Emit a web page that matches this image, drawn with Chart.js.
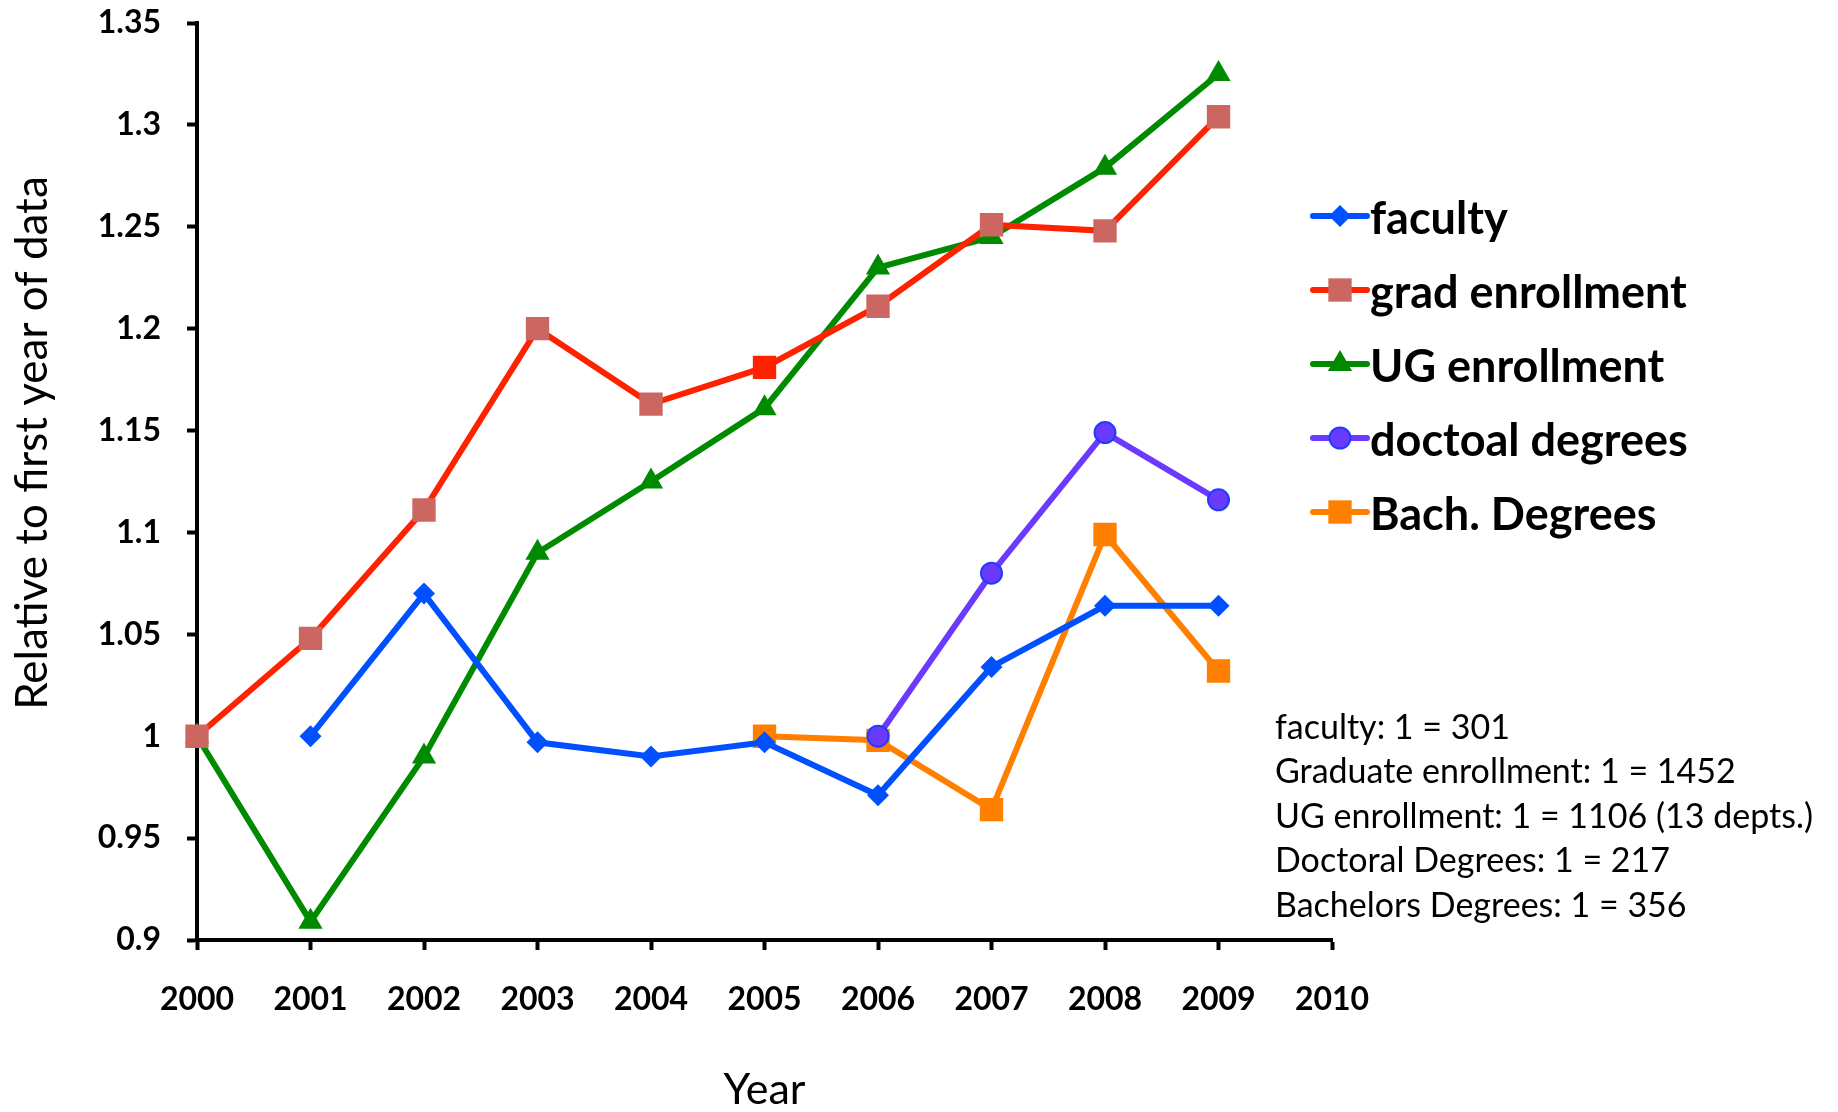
<!DOCTYPE html>
<html>
<head>
<meta charset="utf-8">
<script src="https://cdn.jsdelivr.net/npm/chart.js@4.4.1/dist/chart.umd.min.js"></script>
<style>
  body { margin: 0; background: #fff; }
  #caja { width: 1838px; height: 1112px; }
</style>
</head>
<body>
<div id="caja"><canvas id="graficoRelativo" width="1838" height="1112"></canvas></div>
<script>
// Datos (relativos al primer año)
const anios = ["2000", "2001", "2002", "2003", "2004", "2005", "2006", "2007", "2008", "2009", "2010"];

const faculty = [null, 1.0, 1.07, 0.997, 0.99, 0.997, 0.971, 1.034, 1.064, 1.064];
const gradEnrollment = [1.0, 1.048, 1.111, 1.2, 1.163, 1.181, 1.211, 1.251, 1.248, 1.304];
const ugEnrollment = [1.0, 0.909, 0.99, 1.09, 1.125, 1.161, 1.23, 1.245, 1.279, 1.325];
const doctoral = [null, null, null, null, null, null, 1.0, 1.08, 1.149, 1.116];
const bachelors = [null, null, null, null, null, 1.0, 0.998, 0.964, 1.099, 1.032];

const nombres = ["faculty", "grad enrollment", "UG enrollment", "doctoal degrees", "Bach. Degrees"];

const tituloY = "Relative to first year of data";

const notas = [
    "faculty: 1 = 301",
    "Graduate enrollment: 1 = 1452",
    "UG enrollment: 1 = 1106 (13 depts.)",
    "Doctoral Degrees: 1 = 217",
    "Bachelors Degrees: 1 = 356"
];

// marcador del 2005 en rojo fuerte
const colorGrad = gradEnrollment.map((v, i) => i === 5 ? "#FF2200" : "#CC6660");

// leyenda, notas y titulo del eje Y
const leyendaLateral = {
    id: "leyendaLateral",
    afterDraw(chart) {
        const ctx = chart.ctx;
        ctx.save();
        chart.data.datasets.forEach((ds, i) => {
            const y = 216 + i * 74;
            ctx.strokeStyle = ds.borderColor;
            ctx.lineWidth = ds.borderWidth;
            ctx.lineCap = "round";
            ctx.beginPath();
            ctx.moveTo(1313, y);
            ctx.lineTo(1367, y);
            ctx.stroke();

            let relleno = ds.pointBackgroundColor;
            if (Array.isArray(relleno)) relleno = relleno[0];
            ctx.fillStyle = relleno;
            ctx.strokeStyle = ds.pointBorderColor || relleno;
            ctx.lineWidth = ds.pointBorderWidth;
            Chart.helpers.drawPoint(ctx, {
                pointStyle: ds.pointStyle,
                radius: ds.pointRadius,
                borderWidth: ds.pointBorderWidth,
                rotation: 0
            }, 1340, y);

            ctx.fillStyle = "#000";
            ctx.font = "bold 45px Lato";
            ctx.textAlign = "left";
            ctx.textBaseline = "middle";
            ctx.fillText(ds.label, 1370, y + 3);
        });

        ctx.font = "34px Lato";
        ctx.fillStyle = "#000";
        ctx.textBaseline = "middle";
        notas.forEach((t, i) => ctx.fillText(t, 1275, 728 + i * 44.5));

        // titulo vertical
        ctx.translate(33, 443);
        ctx.rotate(-Math.PI / 2);
        ctx.textAlign = "center";
        ctx.font = "44px Lato";
        ctx.fillText(tituloY, 0, 0);
        ctx.restore();
    }
};

function serie(label, datos, color, estilo, radio, fondo, borde, anchoBorde) {
    return {
        label: label,
        data: datos,
        borderColor: color,
        borderWidth: 6,
        pointStyle: estilo,
        pointRadius: radio,
        pointHoverRadius: radio,
        pointBackgroundColor: fondo,
        pointBorderColor: borde,
        pointBorderWidth: anchoBorde,
        tension: 0,
        fill: false
    };
}

const ctx = document.getElementById("graficoRelativo");

new Chart(ctx, {
    type: "line",
    data: {
        labels: anios,
        datasets: [
            serie(nombres[0], faculty, "#0050FF", "rectRot", 11, "#0050FF", "#0050FF", 0),
            serie(nombres[1], gradEnrollment, "#FF2200", "rect", 16.5, colorGrad, "#CC6660", 0),
            serie(nombres[2], ugEnrollment, "#008A00", "triangle", 14, "#008A00", "#008A00", 0),
            serie(nombres[3], doctoral, "#6A3AFF", "circle", 10.5, "#6A3AFF", "#1E3CFF", 2),
            serie(nombres[4], bachelors, "#FF8000", "rect", 16.5, "#FF8000", "#FF8000", 0)
        ]
    },
    options: {
        responsive: false,
        animation: false,
        layout: {
            padding: { top: 23, right: 506, left: 0, bottom: 0 }
        },
        plugins: {
            legend: { display: false },
            tooltip: { enabled: false }
        },
        scales: {
            x: {
                type: "category",
                offset: false,
                grid: {
                    drawOnChartArea: false,
                    drawTicks: true,
                    tickLength: 10,
                    tickWidth: 4,
                    tickColor: "#000"
                },
                border: { color: "#000", width: 4 },
                ticks: {
                    color: "#000",
                    padding: 30,
                    maxRotation: 0,
                    autoSkip: false,
                    font: { family: "Lato", weight: "bold", size: 32 }
                },
                title: {
                    display: true,
                    text: "Year",
                    color: "#000",
                    padding: { top: 0, bottom: 0 },
                    font: { family: "Lato", size: 43, lineHeight: 1 }
                },
                afterFit(scale) {
                    scale.height = 172;
                    scale.paddingLeft = 0;
                    scale.paddingRight = 0;
                }
            },
            y: {
                min: 0.9,
                max: 1.35,
                grid: {
                    drawOnChartArea: false,
                    drawTicks: true,
                    tickLength: 10,
                    tickWidth: 4,
                    tickColor: "#000"
                },
                border: { color: "#000", width: 4 },
                ticks: {
                    stepSize: 0.05,
                    color: "#000",
                    padding: 26,
                    font: { family: "Lato", weight: "bold", size: 32 },
                    callback: (v) => String(parseFloat(Number(v).toFixed(2)))
                },
                afterFit(scale) {
                    scale.width = 197;
                    scale.paddingTop = 0;
                    scale.paddingBottom = 0;
                }
            }
        }
    },
    plugins: [leyendaLateral]
});
</script>
</body>
</html>
